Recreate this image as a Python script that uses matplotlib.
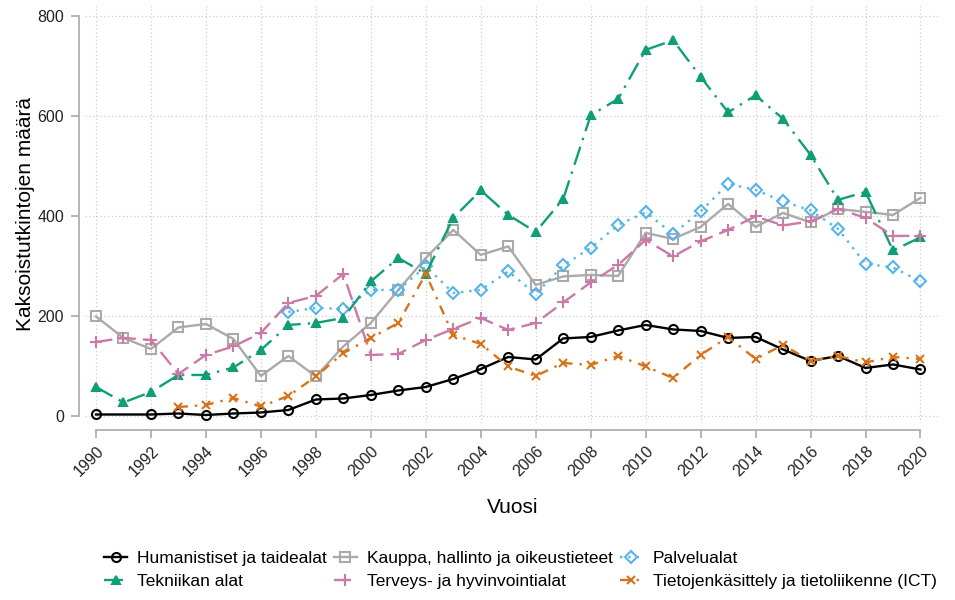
import numpy as np
import matplotlib
matplotlib.use("Agg")
import matplotlib.pyplot as plt

plt.rcParams['font.family'] = ['Liberation Sans', 'DejaVu Sans']

years = np.arange(1990, 2021)
nan = np.nan

# kaksoistutkinnot koulutusaloittain (luettu kuvasta)
humanistiset = [4, nan, 4, 6, 3, 6, 8, 13, 34, 36, 43, 52, 59, 75, 95, 119, 114, 156, 159, 172,
                183, 174, 171, 157, 159, 134, 111, 121, 97, 104, 94]
kauppa = [200, 157, 135, 178, 185, 155, 81, 121, 80, 140, 187, 253, 317, 373, 323, 340, 263, 280, 283, 281,
          367, 355, 379, 425, 379, 407, 388, 415, 409, 403, 437]
palvelu = [nan, nan, nan, nan, nan, nan, nan, 209, 217, 215, 253, 253, 300, 247, 253, 290, 245, 302, 337, 383,
           408, 365, 410, 465, 453, 430, 412, 375, 305, 298, 270]
tekniikka = [59, 28, 49, 83, 83, 98, 133, 183, 187, 197, 270, 317, 285, 397, 452, 403, 369, 435, 602, 635,
             733, 752, 679, 608, 642, 595, 523, 433, 449, 332, 358]
terveys = [149, 157, 153, 85, 123, 140, 167, 227, 241, 285, 123, 125, 153, 175, 197, 173, 187, 228, 268, 303,
           353, 320, 350, 373, 400, 382, 390, 415, 397, 361, 361]
ict = [nan, nan, nan, 19, 23, 37, 20, 41, 80, 127, 157, 187, 285, 163, 145, 100, 81, 107, 103, 121,
       100, 77, 123, 159, 115, 143, 111, 121, 108, 119, 115]

labels = ["Humanistiset ja taidealat", "Kauppa, hallinto ja oikeustieteet", "Palvelualat",
          "Tekniikan alat", "Terveys- ja hyvinvointialat", "Tietojenkäsittely ja tietoliikenne (ICT)"]
series = [humanistiset, kauppa, palvelu, tekniikka, terveys, ict]
colors = ["#000000", "#AAAAAA", "#56B4E9", "#0F9E76", "#CC79A7", "#D8731A"]
markers = ["o", "s", "D", "^", "+", "x"]
styles = ["-", "-", (0, (1, 2.5)), (0, (8, 3, 1, 3)), (0, (7, 3)), (0, (4, 3, 1, 3))]
filled = [False, False, False, True, True, True]
msizes = [6.5, 7, 6, 6, 8, 5.5]

fig = plt.figure(figsize=(9.55, 6), dpi=100)
ax = fig.add_axes([0.089, 0.295, 0.895, 0.697])

handles = []
for y, lab, c, m, ls, f, ms in zip(series, labels, colors, markers, styles, filled, msizes):
    y = np.array(y, dtype=float)
    ok = ~np.isnan(y)
    h, = ax.plot(years[ok], y[ok], color=c, linestyle=ls, linewidth=1.7,
                 marker=m, markersize=ms, markeredgewidth=1.5,
                 markerfacecolor=c if f else "none", markeredgecolor=c, label=lab)
    handles.append(h)

ax.set_xlim(1989.6, 2020.7)
ax.set_ylim(-13, 823)
ax.set_xticks(np.arange(1990, 2021, 2))
ax.set_yticks([0, 200, 400, 600, 800])
ax.grid(True, color="#CCCCCC", linestyle=(0, (1, 2)), linewidth=0.9)
ax.set_axisbelow(True)

for s in ["top", "right"]:
    ax.spines[s].set_visible(False)
ax.spines["left"].set_position(("outward", 4))
ax.spines["bottom"].set_position(("outward", 5))
ax.spines["left"].set_bounds(0, 800)
ax.spines["bottom"].set_bounds(1990, 2020)
for s in ["left", "bottom"]:
    ax.spines[s].set_color("#AAAAAA")
    ax.spines[s].set_linewidth(1.2)
ax.tick_params(axis="both", colors="#AAAAAA", length=6, width=1.2, labelcolor="#222222", labelsize=11.5)
ax.tick_params(axis="y", pad=5)
plt.setp(ax.get_xticklabels(), rotation=45, ha="right", rotation_mode="anchor")

ax.set_ylabel("Kaksoistutkintojen määrä", fontsize=15, labelpad=2)
ax.set_xlabel("Vuosi", fontsize=15, labelpad=14)

order = [0, 3, 1, 4, 2, 5]
fig.legend([handles[i] for i in order], [labels[i] for i in order], ncol=3,
           loc="upper center", bbox_to_anchor=(0.545, 0.108), frameon=False, fontsize=12.5,
           handlelength=1.3, handletextpad=0.6, columnspacing=0.4, labelspacing=0.45)

fig.savefig("out.png", dpi=100)
